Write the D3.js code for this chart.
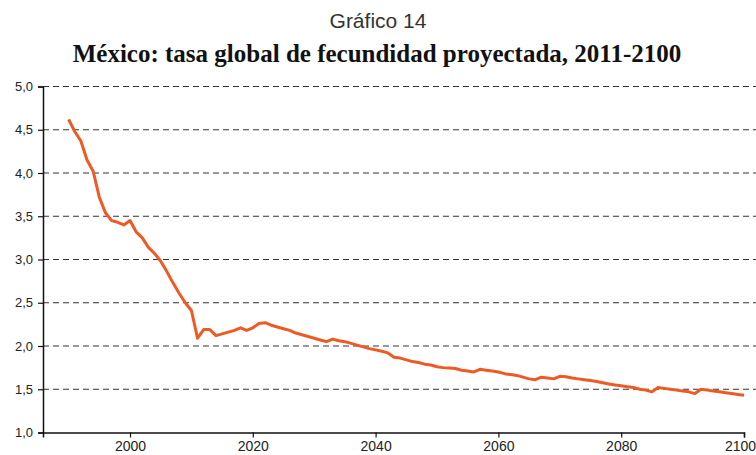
<!DOCTYPE html>
<html>
<head>
<meta charset="utf-8">
<script src="https://cdn.jsdelivr.net/npm/d3@7"></script>
<style>
  body { margin: 0; background: #fff; }
  svg { display: block; }
</style>
</head>
<body>
<svg id="chart"></svg>
<script>
const W = 756, H = 455;
const margin = { top: 86.5, right: 12, bottom: 22.5, left: 43 };

// years and projected fertility rate
const years = d3.range(1990, 2101);
const tgf = [
  4.62, 4.48, 4.37, 4.15, 4.02, 3.72, 3.54, 3.45, 3.43, 3.40,
  3.45, 3.32, 3.25, 3.14, 3.07, 2.98, 2.86, 2.73, 2.61, 2.50,
  2.41, 2.09, 2.19, 2.19, 2.12, 2.14, 2.16, 2.18, 2.21, 2.18,
  2.21, 2.26, 2.27, 2.24, 2.22, 2.20, 2.18, 2.15, 2.13, 2.11,
  2.09, 2.07, 2.05, 2.08, 2.06, 2.05, 2.03, 2.01, 1.99, 1.97,
  1.955, 1.94, 1.92, 1.87, 1.86, 1.84, 1.82, 1.81, 1.79, 1.78,
  1.76, 1.75, 1.745, 1.74, 1.72, 1.71, 1.70, 1.73, 1.72, 1.71,
  1.70, 1.68, 1.67, 1.66, 1.64, 1.62, 1.61, 1.64, 1.63, 1.62,
  1.65, 1.645, 1.63, 1.62, 1.61, 1.60, 1.59, 1.575, 1.56, 1.55,
  1.54, 1.53, 1.52, 1.50, 1.49, 1.47, 1.52, 1.51, 1.50, 1.49,
  1.48, 1.47, 1.45, 1.50, 1.49, 1.48, 1.47, 1.46, 1.45, 1.44,
  1.43
];
const yTicks = [1, 1.5, 2, 2.5, 3, 3.5, 4, 4.5, 5];
const xTicks = [2000, 2020, 2040, 2060, 2080, 2100];

const svg = d3.select("#chart")
    .attr("width", W)
    .attr("height", H);

// titles
svg.append("text")
    .attr("x", 378).attr("y", 28)
    .attr("text-anchor", "middle")
    .style("font-family", "'Liberation Sans', Arial, sans-serif")
    .style("font-size", "21px")
    .style("fill", "#333")
    .text("Gráfico 14");

svg.append("text")
    .attr("x", 377).attr("y", 62)
    .attr("text-anchor", "middle")
    .style("font-family", "'Liberation Serif', 'Times New Roman', serif")
    .style("font-weight", "bold")
    .style("font-size", "25px")
    .style("fill", "#111")
    .text("México: tasa global de fecundidad proyectada, 2011-2100");

const x = d3.scaleLinear()
    .domain([1985.83, 2100])
    .range([margin.left, 744]);

const y = d3.scaleLinear()
    .domain([1, 5])
    .range([H - margin.bottom, margin.top]);

const fmt = v => d3.format(".1f")(v).replace(".", ",");

// dashed gridlines
svg.append("g")
    .selectAll("line")
    .data(yTicks.filter(d => d > 1))
    .enter()
    .append("line")
    .attr("x1", margin.left)
    .attr("x2", W)
    .attr("y1", d => y(d))
    .attr("y2", d => y(d))
    .style("stroke", "#333")
    .style("stroke-width", 1)
    .style("stroke-dasharray", "6,4");

// y axis
const yAxis = svg.append("g")
    .attr("transform", `translate(${margin.left},0)`)
    .call(d3.axisLeft(y).tickValues(yTicks).tickFormat(fmt).tickSize(5).tickPadding(5));

// x axis
const xAxis = svg.append("g")
    .attr("transform", `translate(0,${y(1)})`)
    .call(d3.axisBottom(x).tickValues(xTicks).tickFormat(d3.format("d")).tickSize(5).tickPadding(4));

[yAxis, xAxis].forEach(g => {
    g.select(".domain").style("stroke", "#111").style("stroke-width", 1.5);
    g.selectAll(".tick line").style("stroke", "#111").style("stroke-width", 1.2);
    g.selectAll(".tick text")
        .style("font-family", "'Liberation Sans', Arial, sans-serif")
        .style("font-size", "13px")
        .style("fill", "#222");
});
xAxis.selectAll(".tick text").style("font-size", "14px");

// last x label sits against the right edge
xAxis.selectAll(".tick text")
    .filter(d => d === 2100)
    .attr("dx", -4);

// series line
const line = d3.line()
    .x((d, i) => x(years[i]))
    .y(d => y(d));

svg.append("path")
    .datum(tgf)
    .attr("d", line)
    .style("fill", "none")
    .style("stroke", "#EE5A24")
    .style("stroke-width", 3)
    .style("stroke-linejoin", "round");
</script>
</body>
</html>
